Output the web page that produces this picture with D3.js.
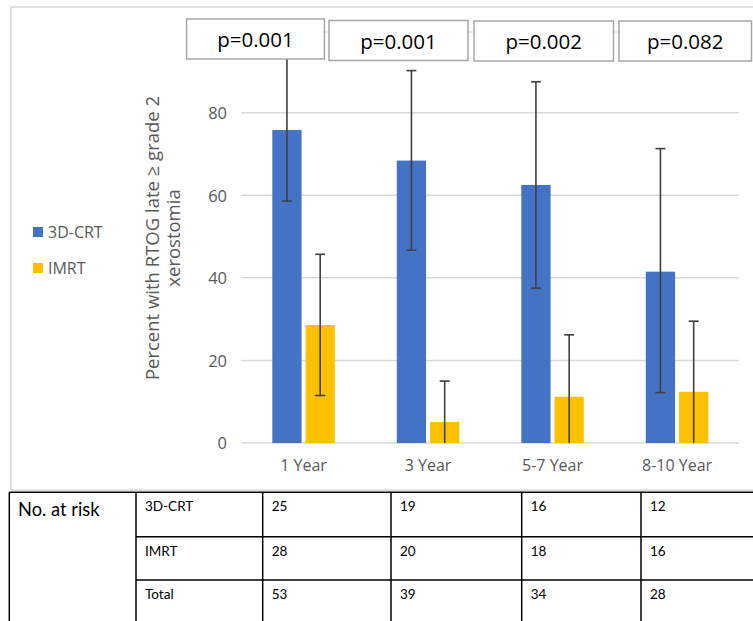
<!DOCTYPE html>
<html><head><meta charset="utf-8">
<script src="https://cdn.jsdelivr.net/npm/d3@7"></script>
<style>body{margin:0;background:#fff;}svg{display:block;}</style>
</head><body>
<script>
const categories = ["1 Year", "3 Year", "5-7 Year", "8-10 Year"];
const seriesNames = ["3D-CRT", "IMRT"];
const crtValues = [75.8, 68.4, 62.5, 41.5];
const crtLower = [58.6, 46.7, 37.5, 12.2];
const crtUpper = [93.6, 90.2, 87.5, 71.3];
const imrtValues = [28.6, 5.1, 11.2, 12.4];
const imrtLower = [11.5, 0, 0, 0];
const imrtUpper = [45.7, 15.0, 26.2, 29.5];
const pValues = ["p=0.001", "p=0.001", "p=0.002", "p=0.082"];
const yTicks = [0, 20, 40, 60, 80];
const riskRows = ["3D-CRT", "IMRT", "Total"];
const riskCrt = [25, 19, 16, 12];
const riskImrt = [28, 20, 18, 16];
const riskTotal = [53, 39, 34, 28];
const colors = ["#4472C4", "#FFC000"];

const W = 753, H = 621;
const svg = d3.select("body").append("svg").attr("width", W).attr("height", H);
const font = "'Open Sans', 'Segoe UI', sans-serif";

// chart frame
svg.append("path").attr("d", "M11,490 L11,7 L760,7").attr("fill", "none").attr("stroke", "#d9d9d9").attr("stroke-width", 1.5);

const x = d3.scaleBand().domain(categories).range([241.3, 739.3]);
const y = d3.scaleLinear().domain([0, 80]).range([443, 112.7]);
const xs = d3.scaleBand().domain(seriesNames).range([0, 62.5]).paddingInner(0.12);

// gridlines
svg.append("g").selectAll("line").data(yTicks).join("line")
  .attr("x1", 241.3).attr("x2", 739.3)
  .attr("y1", d => y(d)).attr("y2", d => y(d))
  .attr("stroke", "#d9d9d9").attr("stroke-width", 1.5);

// y axis labels
const yAxis = d3.axisLeft(y).tickValues(yTicks).tickSize(0).tickPadding(0);
const yg = svg.append("g").attr("transform", "translate(227,0)").call(yAxis);
yg.select(".domain").remove();
yg.selectAll("text").attr("font-family", font).attr("font-size", 16.5).attr("fill", "#595959").attr("dy", "0.35em");

// x axis labels
const xAxis = d3.axisBottom(x).tickSize(0).tickPadding(0);
const xg = svg.append("g").attr("transform", "translate(0,460)").call(xAxis);
xg.select(".domain").remove();
xg.selectAll("text").attr("font-family", font).attr("font-size", 16).attr("fill", "#595959").attr("dy", "0.7em");

const data = categories.map((c, i) => ({
  cat: c,
  s: [
    {name: seriesNames[0], v: crtValues[i], lo: crtLower[i], hi: crtUpper[i]},
    {name: seriesNames[1], v: imrtValues[i], lo: imrtLower[i], hi: imrtUpper[i]}
  ]
}));

const groupOff = (x.bandwidth() - 62.5) / 2;
const groups = svg.append("g").selectAll("g").data(data).join("g")
  .attr("transform", d => `translate(${x(d.cat) + groupOff},0)`);

groups.selectAll("rect").data(d => d.s).join("rect")
  .attr("x", d => xs(d.name)).attr("width", xs.bandwidth())
  .attr("y", d => y(d.v)).attr("height", d => y(0) - y(d.v))
  .attr("fill", (d, i) => colors[i]);

const eb = groups.selectAll("g.eb").data(d => d.s).join("g").attr("class", "eb");
eb.append("line")
  .attr("x1", d => xs(d.name) + xs.bandwidth() / 2).attr("x2", d => xs(d.name) + xs.bandwidth() / 2)
  .attr("y1", d => y(d.lo)).attr("y2", d => y(d.hi))
  .attr("stroke", "#404040").attr("stroke-width", 1.6);
eb.filter(d => d.lo > 0).append("line")
  .attr("x1", d => xs(d.name) + xs.bandwidth() / 2 - 5).attr("x2", d => xs(d.name) + xs.bandwidth() / 2 + 5)
  .attr("y1", d => y(d.lo)).attr("y2", d => y(d.lo))
  .attr("stroke", "#404040").attr("stroke-width", 1.6);
eb.append("line")
  .attr("x1", d => xs(d.name) + xs.bandwidth() / 2 - 5).attr("x2", d => xs(d.name) + xs.bandwidth() / 2 + 5)
  .attr("y1", d => y(d.hi)).attr("y2", d => y(d.hi))
  .attr("stroke", "#404040").attr("stroke-width", 1.6);

// p-value boxes
const boxX = [186.6, 329, 474, 619];
const boxW = [137.8, 139, 139.5, 132.5];
const boxY = [19, 20.5, 21, 21];
svg.append("line").attr("x1", 186.6).attr("x2", 751).attr("y1", 32).attr("y2", 32)
  .attr("stroke", "#d9d9d9").attr("stroke-width", 1.2);
const pb = svg.append("g").selectAll("g").data(pValues).join("g")
  .attr("transform", (d, i) => `translate(${boxX[i]},${boxY[i]})`);
pb.append("rect").attr("width", (d, i) => boxW[i]).attr("height", 40)
  .attr("fill", "#fff").attr("stroke", "#a6a6a6").attr("stroke-width", 1.5);
pb.append("text").attr("x", (d, i) => boxW[i] / 2).attr("y", 21).attr("dy", "0.35em")
  .attr("text-anchor", "middle").attr("font-family", font).attr("font-size", 20.5).attr("fill", "#000")
  .text(d => d);

// y title
const yt = svg.append("text").attr("transform", "translate(153,238) rotate(-90)")
  .attr("text-anchor", "middle").attr("font-family", font).attr("font-size", 18.5).attr("fill", "#595959");
yt.append("tspan").attr("x", 0).attr("dy", "0.35em").text("Percent with RTOG late \u2265 grade 2");
yt.append("tspan").attr("x", 0).attr("dy", "1.1em").text("xerostomia");

// legend
const lg = svg.append("g").selectAll("g").data(seriesNames).join("g")
  .attr("transform", (d, i) => `translate(33,${232 + i * 36})`);
lg.append("rect").attr("x", 0).attr("y", -5).attr("width", 10).attr("height", 10).attr("fill", (d, i) => colors[i]);
lg.append("text").attr("x", 15).attr("y", 0).attr("dy", "0.35em").attr("font-family", font)
  .attr("font-size", 16).attr("fill", "#595959").text(d => d);

// chart bottom frame line
svg.append("line").attr("x1", 11).attr("x2", 760).attr("y1", 490).attr("y2", 490).attr("stroke", "#d9d9d9").attr("stroke-width", 1.5);

// risk table
const tfont = "Lato, 'Open Sans', sans-serif";
const colX = [9.3, 136, 262.7, 391, 521.7, 641, 770];
const rowY = [492.3, 536.7, 580, 624];
const tg = svg.append("g");
tg.append("rect").attr("x", 0).attr("y", 491).attr("width", W).attr("height", 130).attr("fill", "#fff");
tg.append("line").attr("x1", colX[0]).attr("x2", W + 5).attr("y1", rowY[0]).attr("y2", rowY[0]).attr("stroke", "#000").attr("stroke-width", 1.5);
[1, 2].forEach(r => tg.append("line").attr("x1", colX[1]).attr("x2", W + 5).attr("y1", rowY[r]).attr("y2", rowY[r]).attr("stroke", "#000").attr("stroke-width", 1.5));
colX.slice(0, 6).forEach(cx => tg.append("line").attr("x1", cx).attr("x2", cx).attr("y1", rowY[0]).attr("y2", H + 2).attr("stroke", "#000").attr("stroke-width", 1.5));
tg.append("text").attr("x", 18).attr("y", 516).attr("font-family", tfont).attr("font-size", 18.3).attr("fill", "#000").text("No. at risk");
const riskData = [riskCrt, riskImrt, riskTotal];
riskRows.forEach((r, ri) => {
  tg.append("text").attr("x", colX[1] + 9).attr("y", rowY[ri] + 19).attr("font-family", tfont).attr("font-size", 13.5).attr("fill", "#000").text(r);
  riskData[ri].forEach((v, ci) => {
    tg.append("text").attr("x", colX[ci + 2] + 9).attr("y", rowY[ri] + 19).attr("font-family", tfont).attr("font-size", 13.5).attr("fill", "#000").text(v);
  });
});
</script>
</body></html>
